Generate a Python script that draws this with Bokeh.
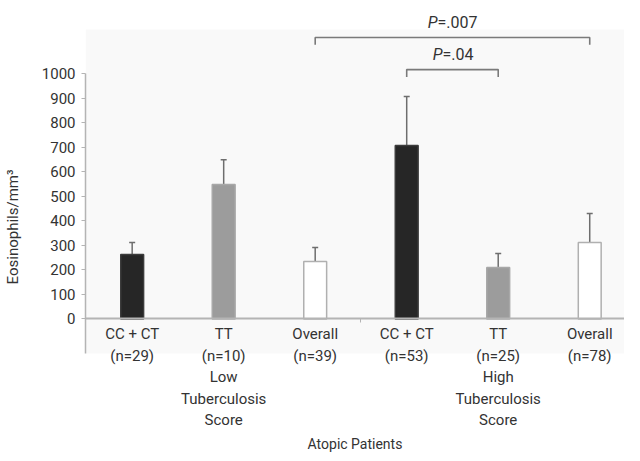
from bokeh.plotting import figure
from bokeh.models import ColumnDataSource, Range1d, FixedTicker, Whisker, TeeHead, BoxAnnotation
from bokeh.core.properties import value
from bokeh.embed import file_html
from bokeh.resources import INLINE

# ---- data ----
categories = [
    "CC + CT\n(n=29)",
    "TT\n(n=10)\nLow\nTuberculosis\nScore",
    "Overall\n(n=39)",
    "CC + CT\n(n=53)",
    "TT\n(n=25)\nHigh\nTuberculosis\nScore",
    "Overall\n(n=78)",
]
genotypes = ["CC + CT", "TT", "Overall", "CC + CT", "TT", "Overall"]
means = [263, 549, 235, 708, 210, 312]
upper_err = [312, 650, 292, 908, 267, 431]
y_ticks = [0, 100, 200, 300, 400, 500, 600, 700, 800, 900, 1000]
# comparisons between bars (indices), p-value texts, bracket levels
comp_first = [2, 3]
comp_second = [5, 4]
comp_p = ["=.007", "=.04"]
comp_level = [1149, 1018]

FONT = "Roboto"
TXT = "#333333"
GRAY = "#b4b4b4"

fill_map = {"CC + CT": "#262626", "TT": "#9c9c9c", "Overall": "#ffffff"}
line_map = {"CC + CT": "#3c3c3c", "TT": "#a8a8a8", "Overall": "#b0b0b0"}

xs = list(range(len(categories)))
src = ColumnDataSource(dict(
    x=xs, top=means, upper=upper_err,
    fill=[fill_map[g] for g in genotypes],
    line=[line_map[g] for g in genotypes],
))

Y_BOTTOM = -549
Y_BOX = -141
p = figure(width=624, height=453, output_backend="svg", toolbar_location=None,
           x_range=Range1d(-0.51, 5.38), y_range=Range1d(Y_BOTTOM, 1300),
           min_border_left=84, min_border_right=0, min_border_top=0,
           min_border_bottom=0)
p.background_fill_color = "white"
p.border_fill_color = "white"
p.outline_line_color = None
p.grid.visible = False

p.add_layout(BoxAnnotation(bottom=Y_BOX, top=1182, fill_color="#f9f9f9",
                           fill_alpha=1.0, line_color=None, level="underlay"))

p.vbar(x="x", top="top", bottom=0, width=0.25, source=src,
       fill_color="fill", line_color="line", line_width=1.5)

wh = Whisker(source=src, base="x", upper="upper", lower="top",
             line_color="#6e6e6e", line_width=1.5,
             upper_head=TeeHead(size=6, line_color="#6e6e6e", line_width=1.5),
             lower_head=None)
p.add_layout(wh)

# significance brackets
drop = 30
bx, by = [], []
for a, b, lev in zip(comp_first, comp_second, comp_level):
    bx.append([a, a, b, b])
    by.append([lev - drop, lev, lev, lev - drop])
p.multi_line(bx, by, line_color="#7a7a7a", line_width=1.6)

centers = [(a + b) / 2 for a, b in zip(comp_first, comp_second)]
text_y = [lev + 62 for lev in comp_level]
offs = [-15, -10]
p.text(x=centers, y=text_y, text=["P", "P"], x_offset=offs,
       text_align="right", text_baseline="middle", text_font=value(FONT),
       text_font_size="16px", text_font_style="italic", text_color=TXT)
p.text(x=centers, y=text_y, text=comp_p, x_offset=offs,
       text_align="left", text_baseline="middle", text_font=value(FONT),
       text_font_size="16px", text_color=TXT)

# x axis
xa = p.xaxis[0]
xa.fixed_location = 0
xa.ticker = FixedTicker(ticks=xs, minor_ticks=[2.5])
xa.major_label_overrides = {i: c for i, c in zip(xs, categories)}
xa.major_tick_in = 0
xa.major_tick_out = 0
xa.minor_tick_in = 0
xa.minor_tick_out = 4
xa.minor_tick_line_color = GRAY
xa.axis_line_color = GRAY
xa.axis_line_width = 2
xa.major_label_text_font = FONT
xa.major_label_text_font_size = "15px"
xa.major_label_text_color = TXT
xa.major_label_text_line_height = 1.2
xa.major_label_standoff = 2
xa.axis_label = "Atopic Patients"
xa.axis_label_text_font = FONT
xa.axis_label_text_font_size = "14px"
xa.axis_label_text_font_style = "normal"
xa.axis_label_text_color = TXT
xa.axis_label_standoff = 4

# y axis
ya = p.yaxis[0]
ya.ticker = FixedTicker(ticks=y_ticks)
ya.bounds = (Y_BOX, 1000)
ya.axis_line_color = GRAY
ya.axis_line_width = 1.5
ya.major_tick_in = 0
ya.major_tick_out = 4
ya.major_tick_line_color = GRAY
ya.minor_tick_line_color = None
ya.major_label_text_font = FONT
ya.major_label_text_font_size = "15px"
ya.major_label_text_color = TXT
ya.major_label_standoff = 6
ya.axis_label = "Eosinophils/mm³"
ya.axis_label_text_font = FONT
ya.axis_label_text_font_size = "15px"
ya.axis_label_text_font_style = "normal"
ya.axis_label_text_color = TXT
ya.axis_label_standoff = 17

open("out.html", "w").write(file_html(p, INLINE))
